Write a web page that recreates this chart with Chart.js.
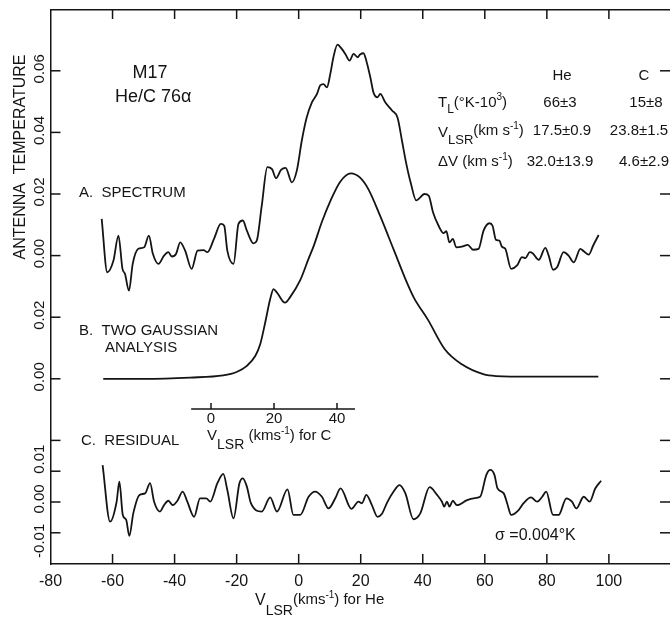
<!DOCTYPE html>
<html>
<head>
<meta charset="utf-8">
<script src="https://cdn.jsdelivr.net/npm/chart.js@4.4.1/dist/chart.umd.min.js"></script>
<style>
  body { margin: 0; background: #fff; }
  canvas { display: block; }
</style>
</head>
<body>
<canvas id="chart" width="670" height="617"></canvas>
<script>
// M17 He/C 76-alpha recombination line
// velocities in km/s (He frame), temperatures in K

// A. observed spectrum
const specVel = [-63.5, -61.7, -59.7, -58.1, -56.8, -56.0, -54.7, -53.5, -51.7, -49.8, -48.3, -47.0, -45.2, -43.4,
  -42.0, -40.9, -39.5, -38.2, -36.6, -34.5, -32.6, -30.7, -29.4, -27.3, -25.1, -24.0, -23.0, -21.0, -19.4, -18.0,
  -16.7, -14.6, -13.5, -11.9, -10.1, -8.6, -7.3, -5.7, -4.2, -2.2, -0.6, 1.0, 2.6, 4.3, 5.9, 6.9, 8.0, 9.1, 10.2,
  11.2, 12.5, 13.9, 15.0, 16.4, 17.7, 19.0, 19.8, 20.9, 21.8, 23.1, 24.1, 25.4, 26.3, 27.9, 30.1, 31.9, 33.3, 34.7,
  36.2, 37.9, 39.2, 40.5, 41.9, 43.3, 45.1, 46.7, 47.6, 48.6, 49.7, 50.8, 52.6, 54.5, 56.2, 58.0, 59.6, 61.5, 62.5,
  63.6, 64.7, 65.5, 66.6, 68.5, 70.4, 72.0, 73.1, 74.5, 75.5, 77.4, 79.5, 80.6, 82.0, 83.3, 85.4, 87.0, 88.7, 90.8,
  91.9, 93.5, 94.9, 96.7];
const specTemp = [0.0119, -0.0054, -0.0016, 0.0065, -0.0043, -0.0059, -0.0114, -0.0027, 0.0022, 0.0027, 0.0065,
  0.0006, -0.0027, 0.0000, 0.0011, -0.0003, 0.0006, 0.0043, 0.0016, -0.0043, 0.0016, 0.0018, 0.0011, 0.0054, 0.0103,
  0.0097, 0.0016, -0.0027, 0.0103, 0.0114, 0.0081, 0.0040, 0.0049, 0.0162, 0.0287, 0.0281, 0.0251, 0.0278, 0.0285,
  0.0238, 0.0276, 0.0373, 0.0449, 0.0498, 0.0525, 0.0552, 0.0557, 0.0546, 0.0590, 0.0644, 0.0685, 0.0671, 0.0655,
  0.0633, 0.0655, 0.0644, 0.0653, 0.0657, 0.0633, 0.0579, 0.0530, 0.0514, 0.0525, 0.0498, 0.0471, 0.0447, 0.0373,
  0.0298, 0.0233, 0.0179, 0.0189, 0.0200, 0.0195, 0.0141, 0.0097, 0.0073, 0.0079, 0.0043, 0.0054, 0.0027, 0.0029,
  0.0035, 0.0019, 0.0022, 0.0081, 0.0105, 0.0097, 0.0051, 0.0049, 0.0029, 0.0022, -0.0043, -0.0032, -0.0005, -0.0008,
  0.0011, 0.0007, -0.0014, 0.0025, 0.0000, -0.0046, -0.0038, 0.0011, 0.0000, -0.0022, 0.0022, 0.0014, 0.0003,
  0.0032, 0.0067];

// B. two gaussian fit
const fitVel = [-63, -50, -35, -24.3, -20.0, -16.7, -14.0, -12.4, -10.8, -9.2, -8.1, -7.0, -4.4, -2.7, 0.5, 3.2,
  4.8, 7.5, 10.2, 13.4, 16.8, 19.8, 22.5, 26.3, 30.6, 34.9, 37.2, 41.6, 47.1, 52.6, 59.5, 63.6, 75, 96.6];
const fitTemp = [0.0000, 0.0000, 0.0004, 0.0011, 0.0022, 0.0042, 0.0074, 0.0112, 0.0182, 0.0258, 0.0291, 0.0280,
  0.0247, 0.0266, 0.0320, 0.0390, 0.0430, 0.0510, 0.0577, 0.0640, 0.0667, 0.0653, 0.0615, 0.0528, 0.0420, 0.0312,
  0.0262, 0.0193, 0.0096, 0.0047, 0.0015, 0.0009, 0.0007, 0.0007];

// C. residual
const residVel = [-63.2, -60.8, -58.7, -57.8, -56.7, -55.6, -54.6, -53.3, -51.3, -49.5, -47.9, -46.6, -44.7, -43.4,
  -42.0, -40.6, -39.1, -37.4, -35.9, -33.7, -31.8, -29.8, -28.5, -26.2, -24.3, -23.0, -21.0, -19.1, -18.0, -16.7,
  -15.4, -11.9, -9.2, -7.0, -3.6, -1.7, 0.5, 3.2, 5.3, 7.5, 9.6, 11.8, 13.5, 17.0, 19.3, 20.4, 21.8, 23.6, 25.4,
  26.8, 28.5, 30.6, 32.5, 34.4, 37.0, 39.2, 42.2, 44.6, 46.2, 46.9, 47.8, 48.6, 49.7, 51.0, 54.3, 56.4, 58.5, 60.5,
  61.8, 63.1, 64.1, 66.1, 67.2, 68.5, 70.9, 72.5, 74.9, 76.9, 78.5, 79.8, 82.0, 83.8, 86.3, 88.1, 89.5, 91.9, 93.8,
  95.6, 97.5];
const residTemp = [0.0120, -0.0064, 0.0000, 0.0066, -0.0042, -0.0058, -0.0110, -0.0036, 0.0023, 0.0028, 0.0061,
  0.0001, -0.0031, -0.0010, 0.0004, -0.0010, 0.0004, 0.0034, 0.0001, -0.0048, 0.0012, 0.0012, 0.0001, 0.0061, 0.0091,
  0.0039, -0.0053, 0.0061, 0.0077, 0.0050, -0.0004, -0.0031, 0.0015, -0.0031, 0.0041, -0.0042, -0.0042, 0.0017,
  0.0034, 0.0017, -0.0021, 0.0012, 0.0044, -0.0022, 0.0001, -0.0004, 0.0023, -0.0010, -0.0048, -0.0039, -0.0002,
  0.0034, 0.0055, 0.0028, -0.0056, -0.0037, 0.0048, 0.0023, 0.0001, -0.0015, 0.0001, -0.0015, 0.0004, -0.0010,
  0.0006, 0.0012, 0.0017, 0.0088, 0.0104, 0.0088, 0.0044, 0.0028, -0.0004, -0.0042, -0.0026, -0.0004, 0.0015,
  0.0001, 0.0017, 0.0034, -0.0042, -0.0042, 0.0012, 0.0001, -0.0021, 0.0017, 0.0001, 0.0044, 0.0069];

// each panel sits on its own baseline of one shared temperature axis
const specBase = 0.08;
const fitBase = 0.04;
const residBase = 0;

const xTickVals = [-80, -60, -40, -20, 0, 20, 40, 60, 80, 100];
const yTickVals = [-0.01, 0, 0.01, 0.02, 0.04, 0.06, 0.08, 0.10, 0.12, 0.14];
const yTickLabels = ['-0.01', '0.00', '0.01', '', '0.00', '0.02', '0.00', '0.02', '0.04', '0.06'];

// inset velocity axis for the carbon line
const cTickVals = [0, 20, 40];
const cAxisFrom = -6.3, cAxisTo = 45.7;
const cAxisLevel = 0.0302;

const INK = '#141414';
const FONT = "'Liberation Sans', Arial, sans-serif";

function series(vel, temp, base) {
  return vel.map((v, i) => ({ x: v, y: temp[i] + base }));
}

function seg(ctx, x1, y1, x2, y2) {
  ctx.beginPath(); ctx.moveTo(x1, y1); ctx.lineTo(x2, y2); ctx.stroke();
}

// text made of runs, e.g. subscripts: [text, size, dy]
function runs(ctx, x, y, parts) {
  ctx.textAlign = 'left';
  ctx.textBaseline = 'alphabetic';
  for (const [s, size, dy] of parts) {
    ctx.font = size + 'px ' + FONT;
    ctx.fillText(s, x, y + dy);
    x += ctx.measureText(s).width;
  }
}

function label(ctx, s, x, y, size, align) {
  ctx.font = size + 'px ' + FONT;
  ctx.textAlign = align || 'left';
  ctx.textBaseline = 'alphabetic';
  ctx.fillText(s, x, y);
}

// the residual labels are spread out a little in the original
const labelNudge = { '-0.01': 8, '0.00r': -3, '0.01': -12 };

const paperPlugin = {
  id: 'paper',
  afterDraw(chart) {
    const { ctx, chartArea: a, scales } = chart;
    const x = scales.x, y = scales.y, xC = scales.xC;
    ctx.save();
    ctx.strokeStyle = INK;
    ctx.fillStyle = INK;
    ctx.lineWidth = 1.5;

    // inward tick marks on all four sides
    x.ticks.forEach(t => {
      const px = x.getPixelForValue(t.value);
      if (px <= a.left + 1) return;
      seg(ctx, px, a.bottom, px, a.bottom - 10);
      seg(ctx, px, a.top, px, a.top + 9);
    });
    y.ticks.forEach(t => {
      const py = y.getPixelForValue(t.value);
      seg(ctx, a.left, py, a.left + 10, py);
      // the right tick at 0.04 is hidden under the parameter table
      if (t.value !== 0.12) seg(ctx, a.right, py, a.right - 10, py);
    });

    // rotated temperature labels
    ctx.font = '15px ' + FONT;
    ctx.textAlign = 'center';
    ctx.textBaseline = 'middle';
    yTickVals.forEach((v, i) => {
      const lab = yTickLabels[i];
      if (!lab) return;
      const key = (v === 0) ? '0.00r' : lab;
      const nudge = (v <= 0.01) ? (labelNudge[key] || 0) : -2;
      ctx.save();
      ctx.translate(40, y.getPixelForValue(v) + nudge);
      ctx.rotate(-Math.PI / 2);
      ctx.fillText(lab, 0, 0);
      ctx.restore();
    });
    ctx.font = '16px ' + FONT;
    ctx.save();
    ctx.translate(21, 157);
    ctx.rotate(-Math.PI / 2);
    ctx.fillText('ANTENNA  TEMPERATURE', 0, 0);
    ctx.restore();

    // x axis title
    runs(ctx, 255, 605, [['V', 16, 0], ['LSR', 14, 10], ['(kms', 15, -1], ['-1', 10, -7], [') for He', 15, -1]]);

    // inset carbon axis
    const iy = y.getPixelForValue(cAxisLevel);
    seg(ctx, xC.getPixelForValue(cAxisFrom), iy, xC.getPixelForValue(cAxisTo), iy);
    cTickVals.forEach(v => {
      const px = xC.getPixelForValue(v);
      seg(ctx, px, iy, px, iy - 6);
      label(ctx, String(v), px, iy + 14, 15, 'center');
    });
    runs(ctx, 207, 440, [['V', 15, 0], ['LSR', 14, 9], [' (kms', 15, 0], ['-1', 10, -6], [') for C', 15, 0]]);

    // panel captions
    label(ctx, 'M17', 150, 78, 18, 'center');
    label(ctx, 'He/C 76\u03b1', 115, 102, 18);
    label(ctx, 'A.  SPECTRUM', 79, 197, 15);
    label(ctx, 'B.  TWO GAUSSIAN', 79, 335, 15);
    label(ctx, 'ANALYSIS', 105, 352, 15);
    label(ctx, 'C.  RESIDUAL', 81, 445, 15);
    label(ctx, '\u03c3 =0.004\u00b0K', 495, 540, 16);

    // fitted parameter table
    label(ctx, 'He', 562, 80, 15, 'center');
    label(ctx, 'C', 644, 80, 15, 'center');
    runs(ctx, 438, 107, [['T', 15, 0], ['L', 12, 6], ['(\u00b0K-10', 15, 0], ['3', 10, -7], [')', 15, 0]]);
    runs(ctx, 438, 137, [['V', 15, 0], ['LSR', 13, 7], ['(km s', 15, -2], ['-1', 10, -8], [')', 15, -2]]);
    runs(ctx, 438, 166, [['\u0394V (km s', 15, 0], ['-1', 10, -6], [')', 15, 0]]);
    label(ctx, '66\u00b13', 560, 107, 15, 'center');
    label(ctx, '15\u00b18', 646, 107, 15, 'center');
    label(ctx, '17.5\u00b10.9', 562, 135, 15, 'center');
    label(ctx, '23.8\u00b11.5', 639, 135, 15, 'center');
    label(ctx, '32.0\u00b113.9', 560, 166, 15, 'center');
    label(ctx, '4.6\u00b12.9', 644, 166, 15, 'center');

    ctx.restore();
  }
};

const lineStyle = { borderColor: INK, borderWidth: 1.8, pointRadius: 0, fill: false, cubicInterpolationMode: 'monotone' };

new Chart(document.getElementById('chart'), {
  type: 'line',
  data: {
    datasets: [
      Object.assign({ label: 'spectrum', data: series(specVel, specTemp, specBase) }, lineStyle),
      Object.assign({ label: 'two gaussian', data: series(fitVel, fitTemp, fitBase) }, lineStyle),
      Object.assign({ label: 'residual', data: series(residVel, residTemp, residBase) }, lineStyle)
    ]
  },
  options: {
    responsive: false,
    animation: false,
    layout: { padding: 0 },
    plugins: { legend: { display: false }, tooltip: { enabled: false } },
    scales: {
      x: {
        type: 'linear', position: 'bottom', min: -80, max: 119.7,
        grid: { display: false, drawTicks: false },
        border: { color: INK, width: 1.5 },
        ticks: { padding: 8, color: INK, autoSkip: false, maxRotation: 0, font: { family: FONT, size: 16 },
                 callback: v => String(v) },
        afterBuildTicks: s => { s.ticks = xTickVals.map(v => ({ value: v })); },
        afterFit: s => { s.height = 53; }
      },
      xTop: {
        type: 'linear', position: 'top', min: -80, max: 119.7,
        grid: { display: false, drawTicks: false },
        border: { color: INK, width: 1.5 },
        ticks: { display: false },
        afterFit: s => { s.height = 10; }
      },
      xC: { type: 'linear', position: 'bottom', display: false, min: -50.95, max: 145.7 },
      y: {
        type: 'linear', position: 'left', min: -0.02013, max: 0.15974,
        grid: { display: false, drawTicks: false },
        border: { color: INK, width: 1.5 },
        ticks: { display: false },
        afterBuildTicks: s => { s.ticks = yTickVals.map(v => ({ value: v })); },
        afterFit: s => { s.width = 50.5; }
      }
    }
  },
  plugins: [paperPlugin]
});
</script>
</body>
</html>
